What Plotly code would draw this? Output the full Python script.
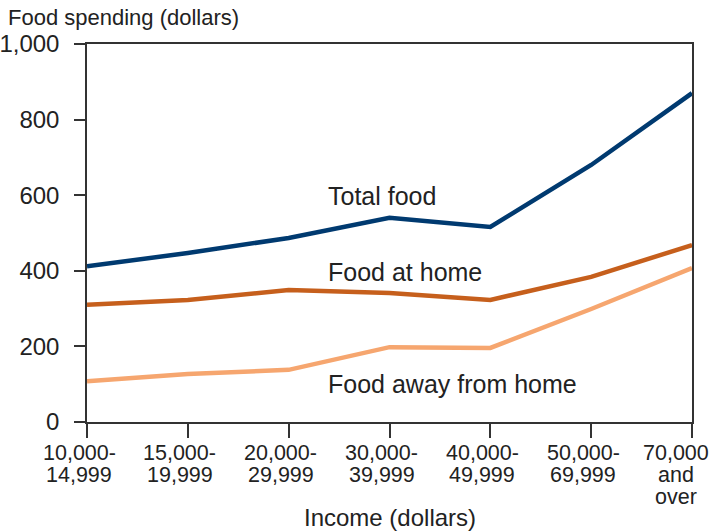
import plotly.graph_objects as go

categories = ["10,000-<br>14,999", "15,000-<br>19,999", "20,000-<br>29,999", "30,000-<br>39,999",
              "40,000-<br>49,999", "50,000-<br>69,999", "70,000<br>and<br>over"]
total_food = [412, 447, 487, 540, 516, 680, 870]
food_at_home = [310, 323, 349, 341, 323, 384, 468]
food_away = [108, 127, 138, 198, 196, 299, 407]
y_ticks = [0, 200, 400, 600, 800, 1000]
y_ticktext = ["0", "200", "400", "600", "800", "1,000"]

xs = list(range(len(categories)))
font = "Liberation Sans, Arial, sans-serif"
txt = "#222222"
axc = "#333333"

fig = go.Figure()
fig.add_trace(go.Scatter(x=xs, y=total_food, mode="lines", line=dict(color="#003a70", width=4.5), name="Total food"))
fig.add_trace(go.Scatter(x=xs, y=food_at_home, mode="lines", line=dict(color="#c65f1c", width=4.5), name="Food at home"))
fig.add_trace(go.Scatter(x=xs, y=food_away, mode="lines", line=dict(color="#f6a66f", width=4.5), name="Food away from home"))

for text, yv in [("Total food", 597), ("Food at home", 397), ("Food away from home", 100)]:
    fig.add_annotation(x=2.37, y=yv, xref="x", yref="y", text=text, showarrow=False,
                       xanchor="left", yanchor="middle", font=dict(size=25, color=txt, family=font))

# category labels, one line per annotation for tight line spacing
for xi, lab in zip(xs, categories):
    shift = -16 if xi == xs[-1] else -8
    for k, line in enumerate(lab.split("<br>")):
        fig.add_annotation(x=xi, y=0, xref="x", yref="paper", text=line, showarrow=False,
                           xanchor="center", yanchor="top", yshift=-17 - 22 * k, xshift=shift,
                           font=dict(size=21.5, color=txt, family=font))

fig.add_annotation(x=0.5, y=0, xref="paper", yref="paper", text="Income (dollars)", showarrow=False,
                   xanchor="center", yanchor="top", yshift=-80,
                   font=dict(size=24, color=txt, family=font))

fig.add_annotation(x=0, y=1, xref="paper", yref="paper", text="Food spending (dollars)", showarrow=False,
                   xanchor="left", yanchor="bottom", xshift=-81, yshift=12,
                   font=dict(size=22, color=txt, family=font))

fig.update_layout(
    width=713, height=531,
    margin=dict(l=87, r=21, t=44, b=109, autoexpand=False),
    plot_bgcolor="white", paper_bgcolor="white",
    showlegend=False,
    font=dict(family=font, color=txt),
    xaxis=dict(range=[0, 6], tickvals=xs, ticktext=[""] * len(xs), showgrid=False, zeroline=False,
               showline=True, linecolor=axc, linewidth=1.5, mirror=True, automargin=False,
               ticks="outside", ticklen=14, tickcolor=axc, tickwidth=1.5),
    yaxis=dict(range=[0, 1000], tickvals=y_ticks, ticktext=y_ticktext, showgrid=False, zeroline=False,
               showline=True, linecolor=axc, linewidth=1.5, mirror=True, automargin=False,
               ticks="outside", ticklen=11, tickcolor=axc, tickwidth=1.5, ticklabelstandoff=10,
               tickfont=dict(size=24, color=txt)),
)

fig.write_html("out.html", config={"displayModeBar": False},
               post_script="document.body.style.margin='0';document.body.style.overflow='hidden';")
